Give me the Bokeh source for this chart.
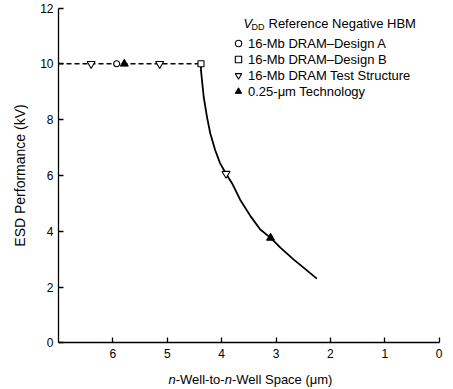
from bokeh.plotting import figure
from bokeh.models import Range1d, Legend, LegendItem, Label, FixedTicker
from bokeh.embed import file_html
from bokeh.resources import INLINE

# ---- data ----
design_a_x = [5.93]
design_a_y = [10.0]
design_b_x = [4.38]
design_b_y = [10.0]
test_x = [6.40, 5.14, 3.92]
test_y = [10.0, 10.0, 6.06]
tech_x = [5.79, 3.10]
tech_y = [10.0, 3.76]
flat_x = [7.0, 4.38]
flat_y = [10.0, 10.0]
curve_x = [4.38, 4.38, 4.33, 4.27, 4.21, 4.12, 4.03, 3.92, 3.81, 3.66, 3.47, 3.29,
           3.10, 2.92, 2.68, 2.46, 2.25]
curve_y = [10.0, 9.76, 8.81, 8.10, 7.51, 6.91, 6.44, 6.06, 5.72, 5.13, 4.54, 4.06,
           3.76, 3.41, 2.99, 2.64, 2.30]
x_ticks = [0, 1, 2, 3, 4, 5, 6]
y_ticks = [0, 2, 4, 6, 8, 10, 12]

legend_labels = ["16-Mb DRAM\u2013Design A", "16-Mb DRAM\u2013Design B",
                 "16-Mb DRAM Test Structure", "0.25-\u03bcm Technology"]
y_title = "ESD Performance (kV)"
x_title_parts = ["n", "-Well-to-", "n", "-Well Space (\u03bcm)"]
legend_title_parts = ["V", "DD", "Reference Negative HBM"]

FONT = "Liberation Sans"
X_MAX, X_MIN, Y_MIN, Y_MAX = 7.0, 0.0, 0.0, 12.0

# ---- layout (canvas pixels) ----
W, H = 453, 389
AX_L, AX_R = 58.0, 438.7     # pixel of x = 7 and x = 0
AX_B, AX_T = 342.3, 7.5      # pixel of y = 0 and y = 12
ppx = (AX_R - AX_L) / (X_MAX - X_MIN)
ppy = (AX_B - AX_T) / (Y_MAX - Y_MIN)
x_range = Range1d(X_MAX + AX_L / ppx, X_MIN - (W - AX_R) / ppx)
y_range = Range1d(Y_MIN - (H - AX_B) / ppy, Y_MAX + AX_T / ppy)


def dx(sx):
    return X_MAX - (sx - AX_L) / ppx


def dy(sy):
    return Y_MIN + (AX_B - sy) / ppy


p = figure(width=W, height=H, x_range=x_range, y_range=y_range,
           output_backend="svg", toolbar_location=None,
           min_border_left=0, min_border_right=0, min_border_top=0, min_border_bottom=0)
p.outline_line_color = None
p.xgrid.visible = False
p.ygrid.visible = False
p.background_fill_color = "white"
p.border_fill_color = "white"

for ax in (p.xaxis[0], p.yaxis[0]):
    ax.axis_line_color = "black"
    ax.axis_line_width = 1.3
    ax.major_tick_line_color = "black"
    ax.major_tick_line_width = 1.3
    ax.major_tick_in = 5
    ax.major_tick_out = 0
    ax.minor_tick_line_color = None
    ax.major_label_text_font = FONT
    ax.major_label_text_font_size = "12px"
    ax.major_label_text_color = "black"

xa, ya = p.xaxis[0], p.yaxis[0]
xa.ticker = FixedTicker(ticks=x_ticks)
ya.ticker = FixedTicker(ticks=y_ticks)
xa.fixed_location = Y_MIN
ya.fixed_location = X_MAX
xa.bounds = (X_MIN, X_MAX)
ya.bounds = (Y_MIN, Y_MAX)
xa.major_label_standoff = 6
ya.major_label_standoff = 5
ya.axis_label = y_title
ya.axis_label_text_font = FONT
ya.axis_label_text_font_size = "14px"
ya.axis_label_text_font_style = "normal"
ya.axis_label_text_color = "black"
ya.axis_label_standoff = 9

# lines
p.line(flat_x, flat_y, line_color="black", line_width=1.4, line_dash="5 3")
p.line(curve_x, curve_y, line_color="black", line_width=1.8, line_join="round")

# markers
r_a = p.scatter(design_a_x, design_a_y, marker="circle", size=6, fill_color="white",
                line_color="black", line_width=1.1)
r_b = p.scatter(design_b_x, design_b_y, marker="square", size=6, fill_color="white",
                line_color="black", line_width=1.1)
r_t = p.scatter(test_x, test_y, marker="inverted_triangle", size=8, fill_color="white",
                line_color="black", line_width=1.1)
r_q = p.scatter(tech_x, tech_y, marker="triangle", size=8, fill_color="black",
                line_color="black", line_width=1.0)

# legend (location measured from the frame's bottom-left corner)
legend = Legend(items=[LegendItem(label=lab, renderers=[r]) for lab, r in
                       zip(legend_labels, [r_a, r_b, r_t, r_q])],
                location=(230, H - 99),
                orientation="vertical", padding=0, margin=0, spacing=0,
                glyph_width=16, glyph_height=16, label_height=14, label_standoff=2,
                label_text_font=FONT, label_text_font_size="13px",
                label_text_color="black", border_line_color=None,
                background_fill_alpha=0)
p.add_layout(legend, "center")

# legend title: V_DD Reference Negative HBM
p.add_layout(Label(x=dx(243), y=dy(22.7), text=legend_title_parts[0], text_font=FONT,
                   text_font_size="13px", text_font_style="italic", text_color="black",
                   text_align="left", text_baseline="alphabetic"))
p.add_layout(Label(x=dx(251), y=dy(26), text=legend_title_parts[1], text_font=FONT,
                   text_font_size="9px", text_color="black",
                   text_align="left", text_baseline="alphabetic"))
p.add_layout(Label(x=dx(268), y=dy(22.7), text=legend_title_parts[2], text_font=FONT,
                   text_font_size="13px", text_color="black",
                   text_align="left", text_baseline="alphabetic"))

# x axis title with italic n's
xs = [168, 175.2, 224.3, 231.5]
styles = ["italic", "normal", "italic", "normal"]
for part, sx, st in zip(x_title_parts, xs, styles):
    p.add_layout(Label(x=dx(sx), y=dy(378.5), text=part, text_font=FONT,
                       text_font_size="13px", text_font_style=st, text_color="black",
                       text_align="left", text_baseline="alphabetic"))

open("out.html", "w").write(file_html(p, INLINE))
